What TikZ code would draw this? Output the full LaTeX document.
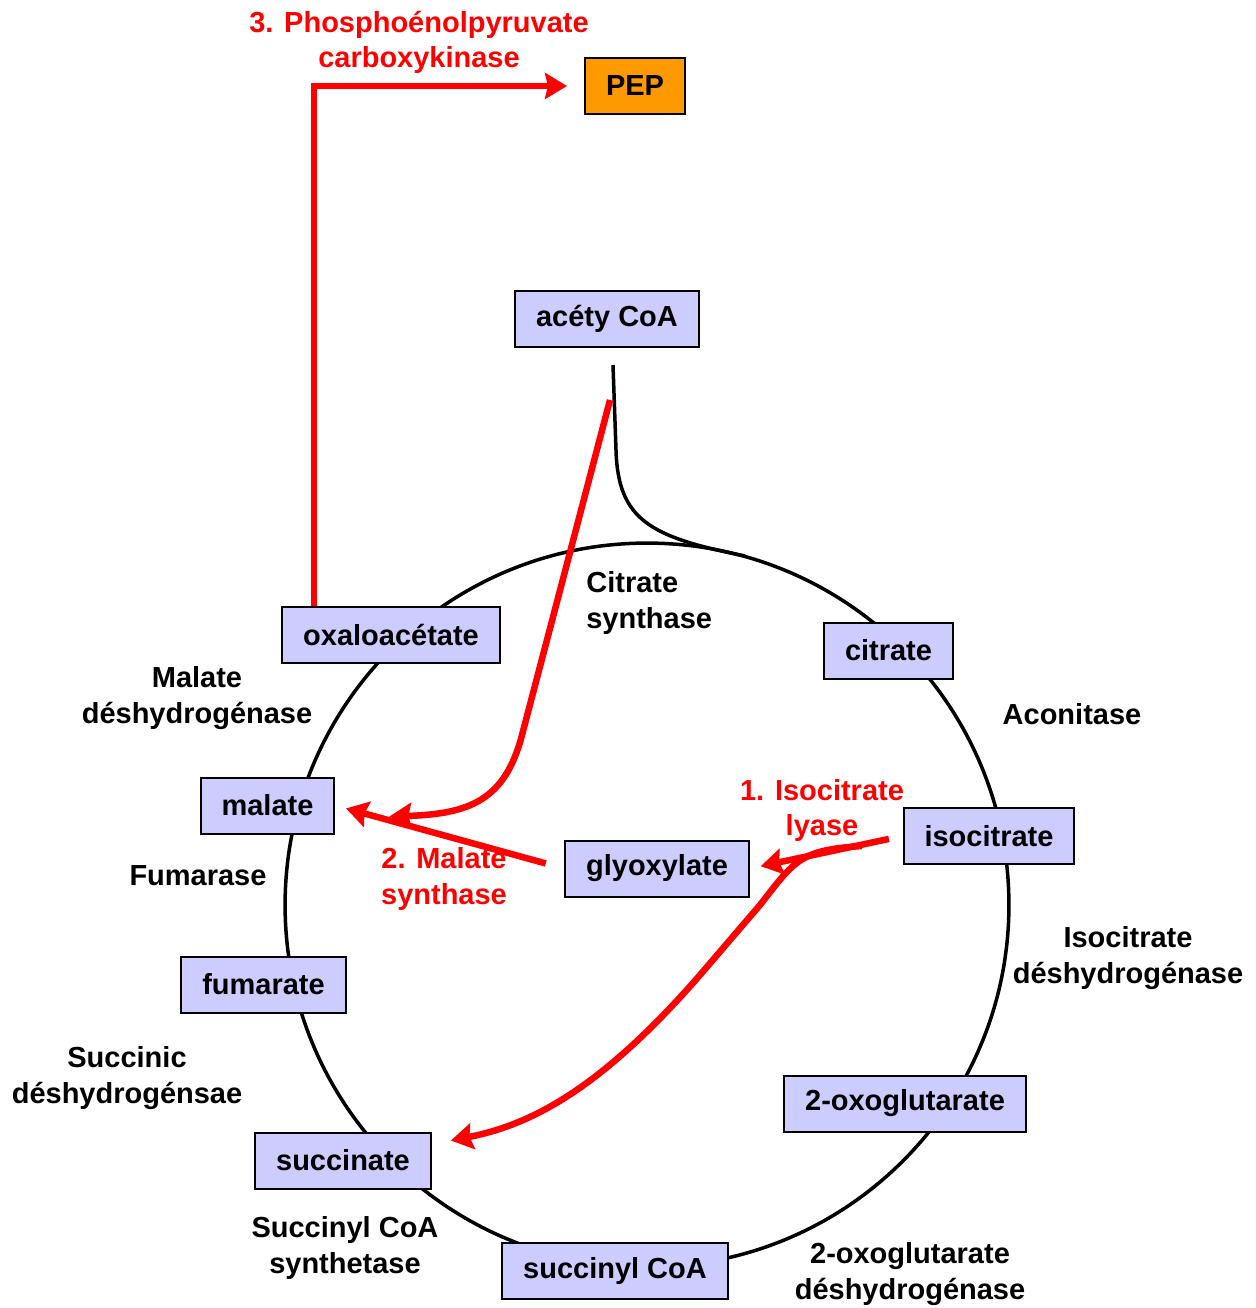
\documentclass[tikz,border=0pt]{standalone}
\usepackage{fontspec}
\setmainfont{Liberation Sans}
\usepackage{tikz}
\usetikzlibrary{arrows.meta}
\definecolor{boxblue}{RGB}{204,204,255}
\definecolor{peporange}{RGB}{255,153,0}
\tikzstyle{metab} = [draw=black,line width=0.04cm,fill=boxblue,minimum height=1.12cm,inner xsep=0.42cm]
\tikzstyle{enzyme} = [align=center,inner sep=0pt]
\tikzstyle{redlabel} = [enzyme,text=red]
\tikzstyle{reaction} = [red,line width=0.13cm,-{Stealth[length=0.44cm,width=0.52cm,inset=0.06cm]}]
\tikzstyle{cycleline} = [black,line width=0.07cm]

\begin{document}
\begin{tikzpicture}[x=0.02cm,y=-0.02cm,font=\fontsize{16.5}{20}\selectfont\bfseries]
\useasboundingbox (0,0) rectangle (1255,1308);

% Krebs cycle
\draw[cycleline] (647,905) circle (7.24cm);
\coordinate (join) at (613,365);
\draw[cycleline] (join) -- (616,450) .. controls (618,520) and (650,537) .. (745,556);

% metabolites
\node[metab,fill=peporange] (pep) at (635,86) {PEP};
\node[metab] (acety) at (607,319) {acéty CoA};
\node[metab] (oxalo) at (391,635) {oxaloacétate};
\node[metab] (citrate) at (888.5,650.5) {citrate};
\node[metab] (malate) at (267.5,805.5) {malate};
\node[metab] (isocit) at (989,836) {isocitrate};
\node[metab] (glyox) at (657,868.5) {glyoxylate};
\node[metab] (fumarate) at (263.5,984.5) {fumarate};
\node[metab] (oxoglut) at (905,1103.5) {2-oxoglutarate};
\node[metab] (succ) at (343,1160.5) {succinate};
\node[metab] (succoa) at (615,1270.5) {succinyl CoA};

% enzymes
\node[enzyme,align=left,anchor=west] (csyn) at (586,603) {Citrate\\synthase};
\node[enzyme] (acon) at (1072,714) {Aconitase};
\node[enzyme] (idh) at (1128,958) {Isocitrate\\déshydrogénase};
\node[enzyme] (ogdh) at (910,1274) {2-oxoglutarate\\déshydrogénase};
\node[enzyme] (scs) at (345,1248) {Succinyl CoA\\synthetase};
\node[enzyme] (sdh) at (127,1078) {Succinic\\déshydrogénsae};
\node[enzyme] (fum) at (198,876) {Fumarase};
\node[enzyme] (mdh) at (197,698) {Malate\\déshydrogénase};

% glyoxylate shunt
\node[redlabel] (pepck) at (419,42) {3. Phosphoénolpyruvate\\carboxykinase};
\node[redlabel] (icl) at (822,810.5) {1. Isocitrate\\lyase};
\node[redlabel] (ms) at (444,879) {2. Malate\\synthase};

\draw[reaction] ([xshift=-1.54cm]oxalo.north) |- ([xshift=-0.34cm]pep.west);
\coordinate (acstart) at (610,400);
\draw[reaction] (acstart) -- (522,735) .. controls (505,800) and (470,814) .. ([xshift=1.08cm,yshift=-0.22cm]malate.east);
\draw[reaction,shorten <=0.38cm,shorten >=0.22cm] (glyox.west) -- (malate.east);
\draw[reaction,shorten <=0.28cm,shorten >=0.22cm] (isocit.west) -- (glyox.east);
\coordinate (lyase) at (862,846);
\draw[reaction] (lyase) .. controls (800,850) and (795,860) .. (760,905) -- (700,975) .. controls (600,1090) and (530,1125) .. ([xshift=0.38cm,yshift=0.4cm]succ.east);

\end{tikzpicture}
\end{document}
